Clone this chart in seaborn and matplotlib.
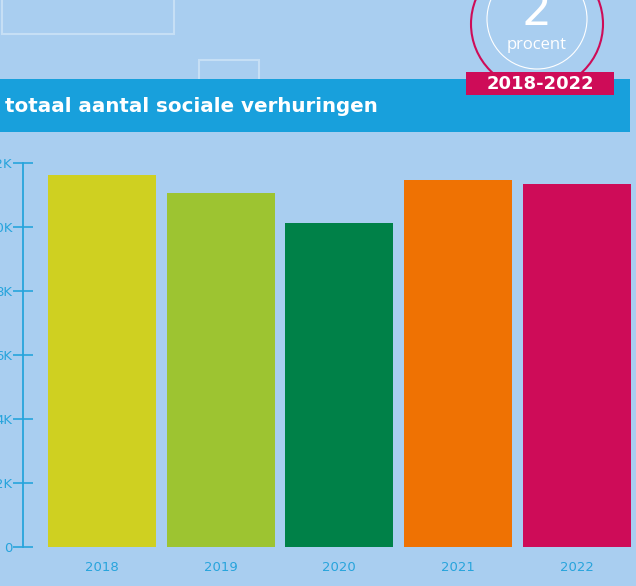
import numpy as np
import pandas as pd
import seaborn as sns
import matplotlib.pyplot as plt
from matplotlib.patches import Rectangle, Circle
from matplotlib.ticker import FuncFormatter

jaren = ["2018", "2019", "2020", "2021", "2022"]
verhuringen = [11630, 11070, 10130, 11480, 11350]
kleuren = ["#cfd021", "#9dc431", "#008148", "#ef7203", "#ce0c58"]
y_ticks = [0, 2000, 4000, 6000, 8000, 10000, 12000]

bg = "#a9cef0"
blauw = "#27a4dc"

df = pd.DataFrame({"jaar": jaren, "aantal": verhuringen})

sns.set_style("white")
plt.rcParams["font.family"] = ["DejaVu Sans"]

W, H = 636, 586
fig = plt.figure(figsize=(W / 100, H / 100), dpi=100)
fig.patch.set_facecolor(bg)

# achtergrond / decoratie in pixel-coordinaten
deco = fig.add_axes([0, 0, 1, 1])
deco.set_xlim(0, W)
deco.set_ylim(H, 0)
deco.axis("off")
deco.set_zorder(0)
lijn = "#c6dff5"
deco.add_patch(Rectangle((2, -20), 172, 54, fill=False, ec=lijn, lw=1.5))
deco.add_patch(Rectangle((199, 60), 60, 40, fill=False, ec=lijn, lw=1.5))
deco.add_patch(Circle((537, 24), 66, fill=False, ec="#ce0c58", lw=1.5))
deco.add_patch(Circle((537, 19), 50, fill=False, ec="white", lw=0.8))
deco.text(537, 25, "2", color="white", fontsize=34, ha="center", va="baseline")
deco.text(537, 49, "procent", color="white", fontsize=12, family="Open Sans",
          ha="center", va="baseline")
deco.add_patch(Rectangle((0, 79), 630, 53, color="#18a0dc", lw=0))
deco.text(5, 107, "totaal aantal sociale verhuringen", color="white", fontsize=14.3,
          fontweight="bold", ha="left", va="center")
deco.add_patch(Rectangle((466, 72), 148, 23, color="#ce0c58", lw=0))
deco.text(540, 84, "2018-2022", color="white", fontsize=13, fontweight="bold",
          ha="center", va="center")

# grafiek
ax = fig.add_axes([23 / W, (H - 547.3) / H, (W - 23) / W, 384 / H])
ax.set_zorder(1)
ax.patch.set_alpha(0)
sns.barplot(data=df, x="jaar", y="aantal", hue="jaar", palette=kleuren,
            legend=False, width=0.91, saturation=1, linewidth=0, edgecolor="none", ax=ax)
ax.set_xlim(-0.665, 4.5)
ax.set_ylim(0, 12000)
ax.set_yticks(y_ticks)
ax.yaxis.set_major_formatter(FuncFormatter(lambda v, p: "0" if v == 0 else f"{int(v/1000)}K"))
ax.set_xlabel("")
ax.set_ylabel("")
for s in ["top", "right", "bottom"]:
    ax.spines[s].set_visible(False)
ax.spines["left"].set_color(blauw)
ax.spines["left"].set_linewidth(1.3)
ax.tick_params(axis="y", left=True, direction="inout", length=14, width=1.2, color=blauw,
               labelcolor=blauw, labelsize=9.5, pad=0.5)
ax.tick_params(axis="x", bottom=False, length=0, labelcolor=blauw, labelsize=9.5, pad=10)

fig.savefig("out.png", dpi=100, facecolor=bg)
